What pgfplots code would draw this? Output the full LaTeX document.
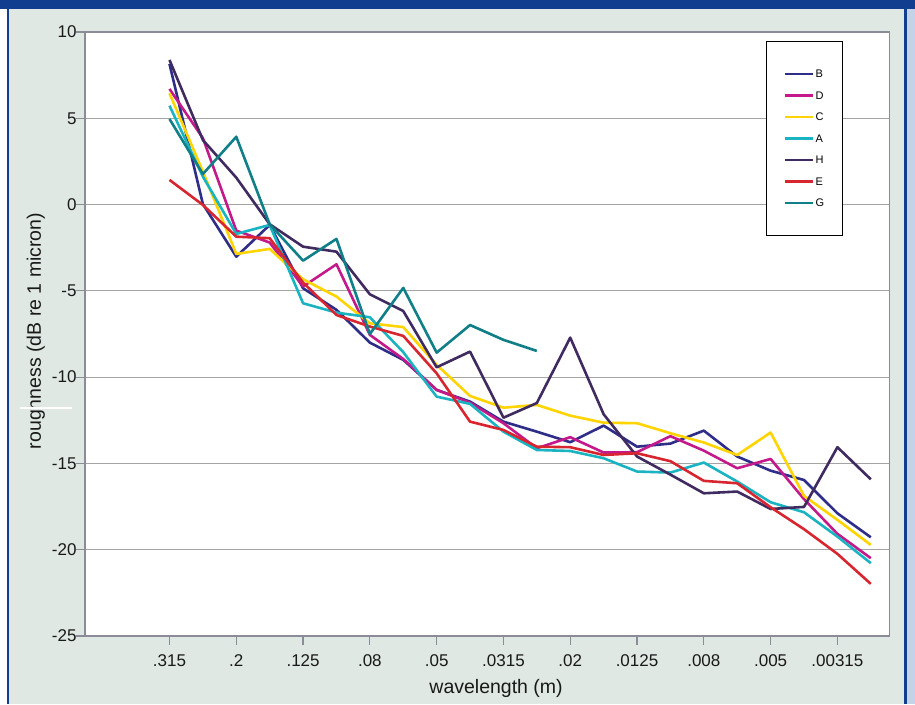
\documentclass[border=0pt]{standalone}
\usepackage{pgfplots}
\pgfplotsset{compat=1.18}
\usepackage{pgfplotstable}
\usepackage{fontspec}
\setmainfont{Liberation Sans}

\definecolor{bgc}{HTML}{DFE8E3}
\definecolor{frameblue}{HTML}{123E8F}
\definecolor{lightframe}{HTML}{C5D3EA}
\definecolor{gridc}{HTML}{A4A4A4}
\definecolor{axc}{HTML}{8C8C98}
\definecolor{cB}{HTML}{2E2D88}
\definecolor{cD}{HTML}{C4198B}
\definecolor{cC}{HTML}{FFD400}
\definecolor{cA}{HTML}{1AB3C1}
\definecolor{cH}{HTML}{3F2B5F}
\definecolor{cE}{HTML}{D7262F}
\definecolor{cG}{HTML}{117F87}

\pgfplotstableread{
idx B D C A H E G
0 8.15 6.70 6.45 5.73 8.38 1.43 4.96
1 0.03 3.85 1.91 1.62 3.74 -0.02 1.77
2 -3.02 -1.51 -2.86 -1.70 1.56 -1.86 3.93
3 -1.18 -2.20 -2.57 -1.18 -1.14 -1.95 -1.14
4 -4.85 -4.75 -4.33 -5.72 -2.44 -4.52 -3.25
5 -6.10 -3.46 -5.33 -6.26 -2.73 -6.40 -1.99
6 -8.00 -7.55 -6.88 -6.53 -5.20 -7.07 -7.50
7 -9.00 -8.95 -7.10 -8.55 -6.17 -7.61 -4.83
8 -10.74 -10.74 -9.29 -11.13 -9.43 -9.78 -8.58
9 -11.42 -11.48 -11.09 -11.55 -8.52 -12.58 -6.98
10 -12.58 -12.67 -11.77 -13.16 -12.35 -13.06 -7.84
11 -13.16 -14.12 -11.61 -14.22 -11.50 -14.03 -8.48
12 -13.77 -13.48 -12.23 -14.28 -7.71 -14.06 nan
13 -12.81 -14.37 -12.64 -14.70 -12.15 -14.51 nan
14 -14.03 -14.35 -12.67 -15.47 -14.60 -14.41 nan
15 -13.85 -13.42 -13.25 -15.53 -15.65 -14.87 nan
16 -13.10 -14.26 -13.79 -14.95 -16.73 -16.01 nan
17 -14.60 -15.28 -14.51 -16.05 -16.63 -16.15 nan
18 -15.42 -14.74 -13.21 -17.25 -17.64 -17.54 nan
19 -15.96 -17.07 -16.88 -17.83 -17.52 -18.81 nan
20 -17.89 -19.08 -18.27 -19.24 -14.06 -20.24 nan
21 -19.28 -20.49 -19.72 -20.78 -15.92 -21.98 nan
}\roughdata

\begin{document}
\begin{tikzpicture}[x=1pt,y=1pt]
\useasboundingbox (0,0) rectangle (915,704);
\fill[bgc] (0,0) rectangle (915,704);
\fill[white] (0,0) rectangle (7,694.5);
\fill[frameblue] (7,0) rectangle (9,694.5);
\fill[frameblue] (904,0) rectangle (907,694.5);
\fill[lightframe] (907,0) rectangle (915,694.5);
\fill[frameblue] (0,694.5) rectangle (915,704);
\begin{axis}[
  at={(85pt,68pt)}, anchor=south west,
  scale only axis, width=804.5pt, height=604pt,
  xmin=-2.53, xmax=21.56, ymin=-25, ymax=10,
  axis background/.style={fill=white},
  axis line style={draw=axc, line width=1.3pt},
  xtick={0,2,...,20},
  xticklabels={.315,.2,.125,.08,.05,.0315,.02,.0125,.008,.005,.00315},
  ytick={-25,-20,...,10},
  tick align=outside, major tick length=9pt,
  tick style={draw=axc, line width=1.2pt},
  xtick pos=bottom, ytick pos=left,
  ymajorgrids, grid style={draw=gridc, line width=1.2pt},
  /pgf/number format/assume math mode=true,
  ticklabel style={font=\fontsize{17}{20}\selectfont, text=black!90},
  xticklabel style={yshift=-6pt},
  yticklabel style={xshift=4pt},
  label style={font=\fontsize{19.5}{23}\selectfont, text=black!90},
  xlabel={wavelength (m)},
  ylabel={roughness (dB re 1 micron)},
  xlabel style={at={(axis description cs:0.511,-0.0944)}, anchor=base},
  ylabel style={at={(axis description cs:-0.0547,0.505)}, anchor=base},
  every axis plot/.append style={line width=2.6pt, line join=round, no markers},
  legend image code/.code={\draw[#1, line width=2.6pt] (0pt,0pt) -- (28pt,0pt);},
  legend style={at={(0.847,0.9845)}, anchor=north west, draw=black, line width=1pt, fill=white,
    font=\fontsize{11}{13}\selectfont, inner xsep=17pt, inner ysep=27.5pt,
    row sep=12pt, nodes={inner sep=1pt, text height=7.5pt, text depth=0pt}},
  legend cell align=left,
  clip=false,
]
\addplot[cB] table[x=idx,y=B] {\roughdata};
\addlegendentry{B}
\addplot[cD] table[x=idx,y=D] {\roughdata};
\addlegendentry{D}
\addplot[cC] table[x=idx,y=C] {\roughdata};
\addlegendentry{C}
\addplot[cA] table[x=idx,y=A] {\roughdata};
\addlegendentry{A}
\addplot[cH] table[x=idx,y=H] {\roughdata};
\addlegendentry{H}
\addplot[cE] table[x=idx,y=E] {\roughdata};
\addlegendentry{E}
\addplot[cG] table[x=idx,y=G] {\roughdata};
\addlegendentry{G}
\end{axis}
\draw[white, line width=1.5pt] (20,296) -- (72,296);
\end{tikzpicture}
\end{document}
